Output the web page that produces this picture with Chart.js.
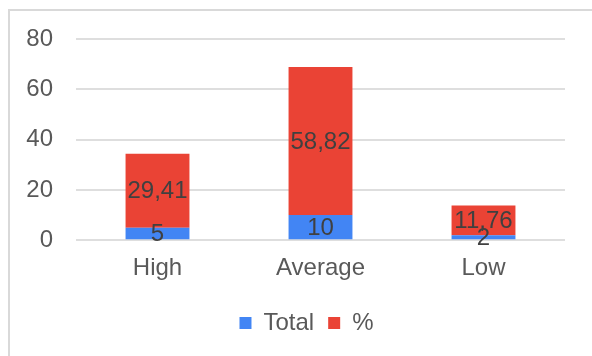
<!DOCTYPE html>
<html>
<head>
<meta charset="utf-8">
<script src="https://cdn.jsdelivr.net/npm/chart.js@4"></script>
<style>
  html, body { margin: 0; padding: 0; background: #fff; overflow: hidden; }
  #frame { position: absolute; left: 8px; top: 9px; width: 700px; height: 500px;
           border-left: 2px solid #d9d9d9; border-top: 2px solid #d9d9d9; }
  #wrap { position: absolute; left: 0; top: 0; width: 592px; height: 356px; }
</style>
</head>
<body>
<div id="frame"></div>
<div id="wrap"><canvas id="barChart"></canvas></div>
<script>
var categories = ["High", "Average", "Low"];
var totalValues = [5, 10, 2];
var percentValues = [29.41, 58.82, 11.76];
var yTicks = [0, 20, 40, 60, 80];

var fontFamily = '"Liberation Sans", Arial, sans-serif';

// draws the value in the middle of every bar segment
var segmentLabels = {
    id: 'segmentLabels',
    afterLayout: function (chart) {
        // legend sits a bit right of centre in the original
        chart.legend.left += 14;
        chart.legend.right += 14;
    },
    afterDatasetsDraw: function (chart) {
        var ctx = chart.ctx;
        ctx.save();
        ctx.font = '24px ' + fontFamily;
        ctx.fillStyle = '#404040';
        ctx.textAlign = 'center';
        ctx.textBaseline = 'middle';
        chart.data.datasets.forEach(function (ds, i) {
            chart.getDatasetMeta(i).data.forEach(function (bar, j) {
                var mid = (bar.y + bar.base) / 2;
                ctx.fillText(String(ds.data[j]).replace('.', ','), bar.x, mid + 1);
            });
        });
        ctx.restore();
    }
};

var ctx = document.getElementById("barChart").getContext('2d');
var myBarChart = new Chart(ctx, {
    type: 'bar',
    data: {
        labels: categories,
        datasets: [{
                label: "Total",
                data: totalValues,
                backgroundColor: '#4285F4',
                borderWidth: 0
            }, {
                label: "%",
                data: percentValues,
                backgroundColor: '#EA4335',
                borderWidth: 0
            }
        ]
    },
    options: {
        responsive: true,
        maintainAspectRatio: false,
        animation: false,
        layout: {
            padding: { left: 20, right: 27, top: 39, bottom: 11 }
        },
        datasets: {
            bar: { barPercentage: 0.49, categoryPercentage: 0.8 }
        },
        scales: {
            x: {
                stacked: true,
                grid: { display: false, drawTicks: false },
                border: { display: false },
                ticks: {
                    color: '#595959',
                    padding: 14,
                    font: { size: 24, family: fontFamily }
                }
            },
            y: {
                stacked: true,
                min: 0,
                max: 80,
                afterFit: function (scale) { scale.width = 56; },
                afterBuildTicks: function (scale) {
                    scale.ticks = yTicks.map(function (v) { return { value: v }; });
                },
                grid: { color: '#dedede', lineWidth: 2, drawTicks: false },
                border: { display: false },
                ticks: {
                    color: '#595959',
                    padding: 23,
                    font: { size: 24, family: fontFamily }
                }
            }
        },
        plugins: {
            legend: {
                position: 'bottom',
                labels: {
                    boxWidth: 12,
                    boxHeight: 12,
                    padding: 14,
                    color: '#595959',
                    font: { size: 24, family: fontFamily }
                }
            },
            tooltip: { enabled: false }
        }
    },
    plugins: [segmentLabels]
});
</script>
</body>
</html>
